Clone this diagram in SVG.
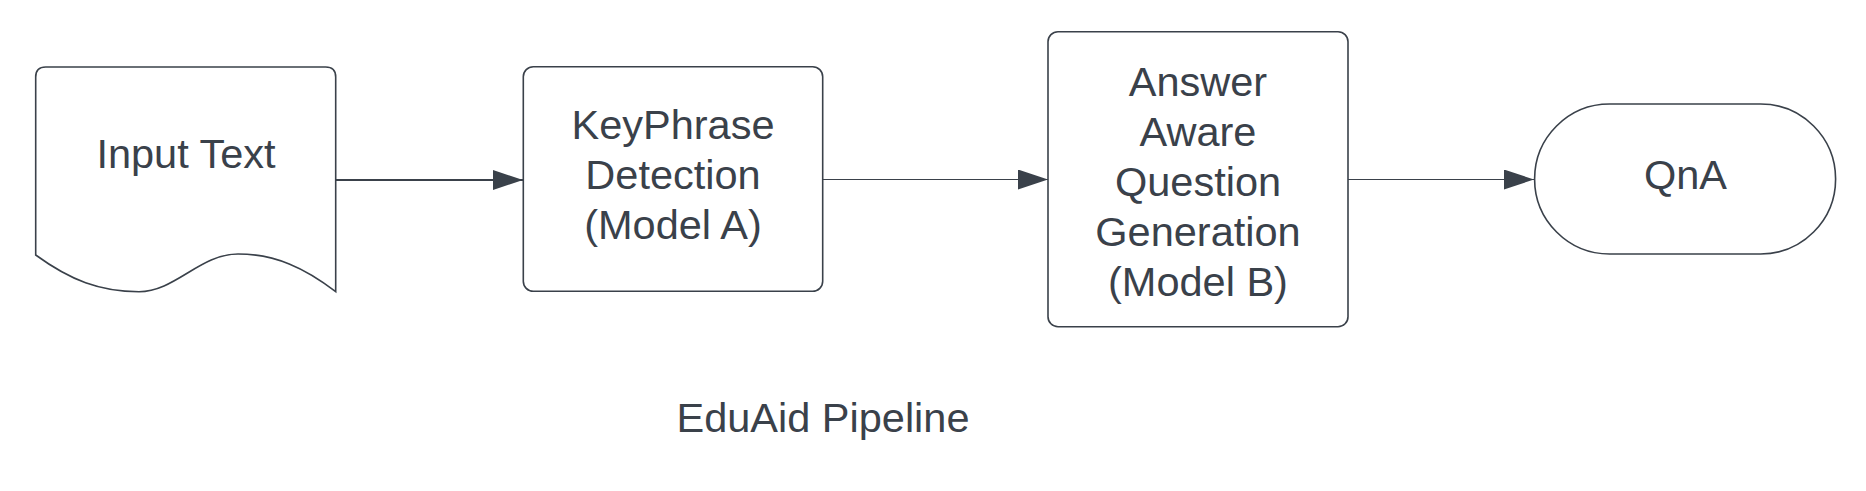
<svg xmlns="http://www.w3.org/2000/svg" width="1866" height="491" viewBox="0 0 1866 491">
<style>
.shape{fill:#ffffff;stroke:#3a414a;stroke-width:1.6}
.lbl{font-family:"Liberation Sans",Arial,sans-serif;font-size:41.5px;fill:#3a414a;text-anchor:middle}
.conn{stroke:#3a414a;fill:none}
</style>
<defs>
<marker id="arr" markerUnits="userSpaceOnUse" markerWidth="31" markerHeight="22" refX="30" refY="10" orient="auto">
<path d="M0,0 L30,10 L0,20 Z" fill="#3a414a"/>
</marker>
</defs>
<rect width="1866" height="491" fill="#ffffff"/>
<g id="connectors">
<line class="conn" x1="336" y1="180" x2="523" y2="180" stroke-width="2" marker-end="url(#arr)"/>
<line class="conn" x1="823" y1="179.5" x2="1048" y2="179.5" stroke-width="1.2" marker-end="url(#arr)"/>
<line class="conn" x1="1348" y1="179.5" x2="1534" y2="179.5" stroke-width="1.2" marker-end="url(#arr)"/>
</g>
<g id="input-text">
<path class="shape" d="M35.7,255 L35.7,77 Q35.7,67 45.7,67 L325.7,67 Q335.7,67 335.7,77 L335.7,291.7 C305,268 275,254 238,254 C200,254 175,291.7 139,291.7 C100,291.7 70,280 35.7,255 Z"/>
<text class="lbl" x="186" y="167.7">Input Text</text>
</g>
<g id="keyphrase">
<rect class="shape" x="523.3" y="66.7" width="299.4" height="224.6" rx="10"/>
<text class="lbl" x="673" y="139.3">KeyPhrase</text>
<text class="lbl" x="673" y="189.3">Detection</text>
<text class="lbl" x="673" y="238.5">(Model A)</text>
</g>
<g id="question-gen">
<rect class="shape" x="1048" y="31.7" width="300" height="295" rx="10"/>
<text class="lbl" x="1198" y="96">Answer</text>
<text class="lbl" x="1198" y="146">Aware</text>
<text class="lbl" x="1198" y="195.5">Question</text>
<text class="lbl" x="1198" y="245.5">Generation</text>
<text class="lbl" x="1198" y="296">(Model B)</text>
</g>
<g id="qna">
<rect class="shape" x="1534.6" y="104" width="301" height="150" rx="75" ry="75"/>
<text class="lbl" x="1685.5" y="189">QnA</text>
</g>
<g id="caption">
<text class="lbl" x="823" y="431.7">EduAid Pipeline</text>
</g>
</svg>
